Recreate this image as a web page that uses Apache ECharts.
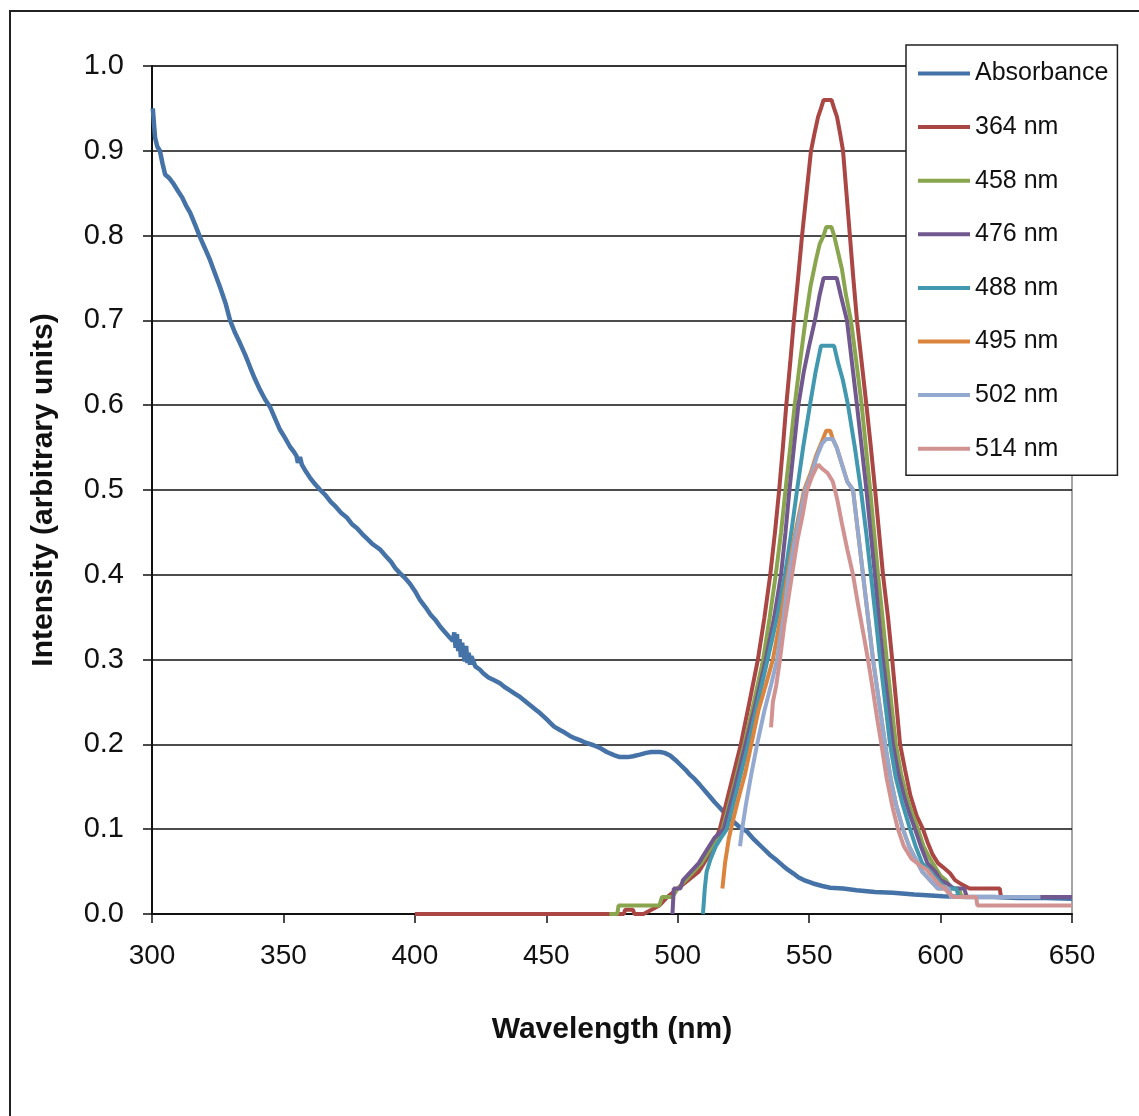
<!DOCTYPE html>
<html>
<head>
<meta charset="utf-8">
<script src="https://cdn.jsdelivr.net/npm/echarts@6/dist/echarts.min.js"></script>
<style>
html,body{margin:0;padding:0;background:#fff}
#chart{width:1139px;height:1116px}
</style>
</head>
<body>
<div id="chart"></div>
<script>
// wavelength (nm), intensity pairs
var absorbance = [[300.3,0.95],[300.8,0.93],[301.2,0.915],[302,0.905],[303,0.9],[304,0.885],[305,0.872],[306.5,0.868],[308,0.862],[310,0.852],[311.5,0.845],[313,0.835],[314.5,0.827],[316.5,0.812],[318.3,0.798],[320,0.786],[322.1,0.771],[324,0.755],[325.9,0.739],[328,0.72],[329.7,0.70],[331.5,0.686],[333.5,0.673],[335.5,0.659],[337.3,0.645],[339,0.632],[341.1,0.618],[343,0.607],[344.9,0.598],[347,0.583],[348.7,0.571],[350.5,0.562],[352.5,0.551],[354,0.545],[355,0.54],[355.5,0.532],[356.3,0.539],[357,0.53],[358.5,0.522],[360,0.515],[362,0.507],[364,0.5],[366,0.494],[368,0.486],[370,0.48],[372,0.473],[374,0.468],[376,0.46],[378,0.455],[380,0.448],[382,0.442],[384,0.436],[386.7,0.43],[389,0.422],[391,0.415],[392.5,0.408],[394.3,0.402],[396,0.397],[398,0.39],[400,0.381],[402,0.37],[404,0.362],[406,0.353],[408,0.346],[409.6,0.339],[411,0.334],[413,0.327],[414.5,0.322],[415,0.332],[415.5,0.314],[416,0.33],[416.5,0.31],[417,0.324],[417.5,0.303],[418,0.32],[418.5,0.306],[419,0.298],[419.5,0.316],[420,0.296],[420.5,0.308],[421,0.294],[421.5,0.304],[422,0.3],[423,0.292],[424.8,0.288],[426,0.284],[428,0.279],[430,0.276],[432.4,0.272],[434,0.268],[436,0.264],[438,0.26],[440,0.256],[442,0.251],[444,0.246],[446,0.241],[447.6,0.237],[450,0.23],[452,0.224],[453,0.221],[455.2,0.217],[457,0.214],[459,0.21],[461,0.207],[462.8,0.205],[465,0.202],[468,0.199],[470.4,0.196],[473,0.191],[476,0.187],[478,0.185],[481,0.185],[483,0.186],[485.6,0.188],[488,0.19],[490,0.191],[493.3,0.191],[495,0.19],[497.1,0.187],[499,0.182],[501,0.176],[503,0.17],[504.7,0.164],[506.5,0.159],[508.5,0.152],[511,0.143],[514,0.132],[517,0.122],[520,0.112],[523,0.104],[526.4,0.097],[529,0.088],[532,0.079],[535,0.07],[537.8,0.063],[540,0.057],[542,0.052],[543.9,0.048],[546,0.043],[548,0.04],[551.5,0.036],[555,0.033],[558,0.031],[562.9,0.03],[568,0.028],[575,0.026],[581.9,0.025],[590,0.023],[600.9,0.021],[610,0.02],[620,0.02],[630,0.019],[640,0.019],[650,0.018]];

var em364 = [[400,0],[479.5,0],[480,0.005],[483,0.005],[483.5,0],[487,0],[490,0.005],[493,0.01],[496,0.02],[498,0.025],[500,0.03],[502,0.035],[504,0.04],[506,0.045],[508,0.05],[510,0.06],[512,0.07],[514,0.085],[516,0.1],[520,0.15],[524,0.2],[527.3,0.25],[530.5,0.3],[533,0.35],[535.2,0.4],[537,0.45],[538.6,0.5],[540,0.55],[541.3,0.6],[542.8,0.65],[544.2,0.7],[545.8,0.75],[547.3,0.8],[549,0.85],[550.7,0.9],[552,0.92],[553.4,0.94],[554.5,0.95],[555.5,0.96],[558.5,0.96],[559.5,0.95],[560.6,0.94],[561.8,0.92],[562.9,0.9],[564.2,0.85],[565.5,0.8],[566.8,0.75],[568.2,0.7],[570,0.65],[571.8,0.6],[573.5,0.55],[575.1,0.5],[576.6,0.45],[578.1,0.4],[580,0.35],[581.6,0.3],[583.1,0.25],[584.6,0.2],[586.5,0.17],[588.5,0.14],[591,0.115],[593.3,0.1],[595,0.085],[597,0.07],[599,0.06],[601,0.055],[603.6,0.048],[605.5,0.04],[608,0.035],[611,0.03],[622.5,0.03],[623,0.02],[650,0.02]];

var em458 = [[474,0],[477,0],[477.5,0.01],[493,0.01],[494,0.02],[498,0.02],[500,0.03],[503,0.04],[506,0.05],[509,0.06],[511,0.07],[513,0.08],[515,0.09],[517,0.1],[521.3,0.15],[525.3,0.2],[529,0.25],[532.5,0.3],[535,0.35],[537.3,0.4],[539.3,0.45],[541,0.5],[542.8,0.55],[544.5,0.6],[546.5,0.65],[548.6,0.7],[550.5,0.74],[552.5,0.77],[554,0.79],[555.5,0.8],[556.5,0.81],[558.5,0.81],[559.5,0.8],[561,0.78],[562.5,0.76],[564,0.73],[565.9,0.7],[568,0.65],[570,0.6],[571.6,0.55],[573.2,0.5],[574.7,0.45],[576.2,0.4],[577.9,0.35],[579.5,0.3],[581.2,0.25],[583,0.2],[585,0.165],[587,0.14],[589,0.12],[591.4,0.1],[593.5,0.08],[596,0.065],[598,0.055],[600,0.045],[602,0.04],[604,0.03],[607,0.03],[608,0.02],[650,0.02]];

var em476 = [[498,0],[498.5,0.03],[501,0.03],[502,0.04],[505,0.05],[508,0.06],[511,0.075],[514,0.09],[517.5,0.1],[521.8,0.15],[525.8,0.2],[529.8,0.25],[533.5,0.3],[536.7,0.35],[539.3,0.4],[541,0.45],[542.5,0.5],[544.2,0.55],[545.9,0.6],[548,0.64],[550,0.67],[552.2,0.7],[554,0.73],[555.5,0.75],[560.5,0.75],[562,0.73],[564.4,0.7],[566.3,0.65],[568.2,0.6],[570,0.55],[571.8,0.5],[573.4,0.45],[575,0.4],[576.5,0.35],[578.1,0.3],[580,0.25],[581.9,0.2],[584,0.165],[586,0.14],[588,0.12],[590.3,0.1],[592.5,0.08],[595,0.06],[598,0.05],[600,0.04],[603,0.035],[605,0.03],[609,0.03],[610,0.02],[650,0.02]];

var em488 = [[509.6,0],[510.3,0.03],[511,0.05],[512.5,0.065],[514.5,0.08],[516.5,0.09],[518.7,0.1],[522.8,0.15],[526.8,0.2],[530.5,0.25],[534.2,0.3],[537.8,0.35],[540.8,0.4],[543.2,0.45],[545.4,0.5],[547.7,0.55],[550.3,0.6],[552.5,0.64],[554.5,0.67],[559.5,0.67],[561,0.65],[562.8,0.63],[564.8,0.6],[567.4,0.55],[569.7,0.5],[571.7,0.45],[573.5,0.4],[575.3,0.35],[577,0.3],[578.9,0.25],[580.8,0.2],[583,0.16],[585.5,0.13],[588.4,0.1],[590.5,0.08],[593,0.06],[596,0.05],[599,0.04],[602,0.03],[606,0.03],[607,0.02],[636,0.02]];

var em495 = [[517,0.03],[518,0.06],[519.5,0.09],[521,0.11],[523,0.135],[525.6,0.165],[528,0.2],[530.7,0.24],[533.5,0.27],[536.2,0.3],[539.2,0.35],[541.8,0.4],[544.1,0.44],[546.1,0.47],[548.1,0.5],[550.6,0.52],[552.6,0.54],[554.6,0.555],[556.5,0.57],[558,0.57],[559,0.56],[560.5,0.55],[562.5,0.53],[564.5,0.51],[566.7,0.5],[568.6,0.45],[570.5,0.4],[572.4,0.35],[574.3,0.3],[576.6,0.25],[578.9,0.2],[581,0.16],[583,0.13],[585.7,0.1],[588,0.08],[590.5,0.065],[593,0.05],[596,0.04],[599,0.03],[603,0.03],[604,0.02],[625,0.02]];

var em502 = [[523.7,0.08],[524.5,0.1],[526,0.13],[528,0.165],[530.2,0.2],[533,0.24],[535.5,0.27],[537.8,0.3],[540.2,0.35],[542.3,0.4],[544.5,0.44],[546.5,0.47],[548.5,0.5],[551,0.52],[553,0.54],[555,0.555],[556.5,0.56],[559,0.56],[560.5,0.55],[562.5,0.53],[564.5,0.51],[566.7,0.5],[568.6,0.45],[570.5,0.4],[572.4,0.35],[574.3,0.3],[576.6,0.25],[578.9,0.2],[581,0.16],[583,0.13],[585.7,0.1],[588,0.08],[590.5,0.065],[593,0.05],[596,0.04],[599,0.03],[603,0.03],[604,0.02],[638,0.02]];

var em514 = [[535.5,0.22],[536.2,0.25],[537.5,0.27],[538.9,0.3],[540.5,0.34],[542,0.37],[543.5,0.4],[545.5,0.44],[547.5,0.47],[549.2,0.5],[551,0.515],[552.5,0.525],[553.5,0.53],[555,0.525],[557,0.52],[559,0.51],[560.6,0.49],[562.5,0.46],[564.5,0.43],[566.7,0.4],[568.6,0.365],[570.5,0.333],[572.4,0.3],[574.2,0.265],[575.9,0.23],[577.5,0.2],[579.5,0.16],[581.8,0.125],[583.8,0.1],[586,0.08],[589,0.065],[592,0.058],[594.8,0.052],[597.5,0.042],[599.5,0.035],[601,0.032],[603,0.025],[605,0.02],[613.5,0.02],[614,0.01],[650,0.01]];

var seriesNames = ['Absorbance','364 nm','458 nm','476 nm','488 nm','495 nm','502 nm','514 nm'];
var seriesData = [absorbance, em364, em458, em476, em488, em495, em502, em514];
var seriesColors = ['#4572A7','#AA4643','#89A54E','#71588F','#4198AF','#DB843D','#93A9CF','#D19392'];

var font = '"Liberation Sans", Arial, sans-serif';

var series = [];
for (var i = 0; i < seriesNames.length; i++) {
    series.push({
        name: seriesNames[i],
        type: 'line',
        data: seriesData[i],
        showSymbol: false,
        symbol: 'none',
        color: seriesColors[i],
        lineStyle: {width: i === 0 ? 4.5 : 4, color: seriesColors[i]},
        animation: false
    });
}

var myChart = echarts.init(document.getElementById('chart'));
myChart.setOption({
    backgroundColor: '#fff',
    animation: false,
    grid: {
        left: 152, right: 67, top: 66, bottom: 202,
        show: true, borderColor: '#888', borderWidth: 1.5,
        outerBoundsMode: 'none'
    },
    graphic: [{
        type: 'rect',
        shape: {x: 10, y: 11, width: 1200, height: 1200},
        style: {fill: 'none', stroke: '#222', lineWidth: 2}
    }],
    legend: {
        data: seriesNames,
        orient: 'vertical',
        left: 906, top: 45,
        padding: [16, 9, 14, 12],
        itemGap: 28.6,
        itemWidth: 52, itemHeight: 4,
        icon: 'rect',
        backgroundColor: '#fff',
        borderColor: '#222', borderWidth: 1.5,
        textStyle: {fontSize: 25, lineHeight: 24, color: '#111', fontFamily: font}
    },
    xAxis: {
        type: 'value',
        min: 300, max: 650, interval: 50,
        name: 'Wavelength (nm)',
        nameLocation: 'middle',
        nameGap: 101,
        nameTextStyle: {fontSize: 30, fontWeight: 'bold', color: '#111', fontFamily: font},
        axisLine: {show: true, onZero: false, lineStyle: {color: '#111', width: 2}},
        axisTick: {show: true, inside: false, length: 9, lineStyle: {color: '#111', width: 1.5}},
        axisLabel: {fontSize: 28, color: '#111', margin: 28, fontFamily: font},
        splitLine: {show: false}
    },
    yAxis: {
        type: 'value',
        min: 0, max: 1, interval: 0.1,
        name: 'Intensity (arbitrary units)',
        nameLocation: 'middle',
        nameGap: 93,
        nameTextStyle: {fontSize: 30, fontWeight: 'bold', color: '#111', fontFamily: font},
        axisLine: {show: true, onZero: false, lineStyle: {color: '#111', width: 2}},
        axisTick: {show: true, inside: false, length: 9, lineStyle: {color: '#111', width: 1.5}},
        axisLabel: {
            fontSize: 29, color: '#111', margin: 28, fontFamily: font,
            formatter: function (v) { return v.toFixed(1); }
        },
        splitLine: {show: true, lineStyle: {color: '#111', width: 1.5}}
    },
    series: series
});
</script>
</body>
</html>
